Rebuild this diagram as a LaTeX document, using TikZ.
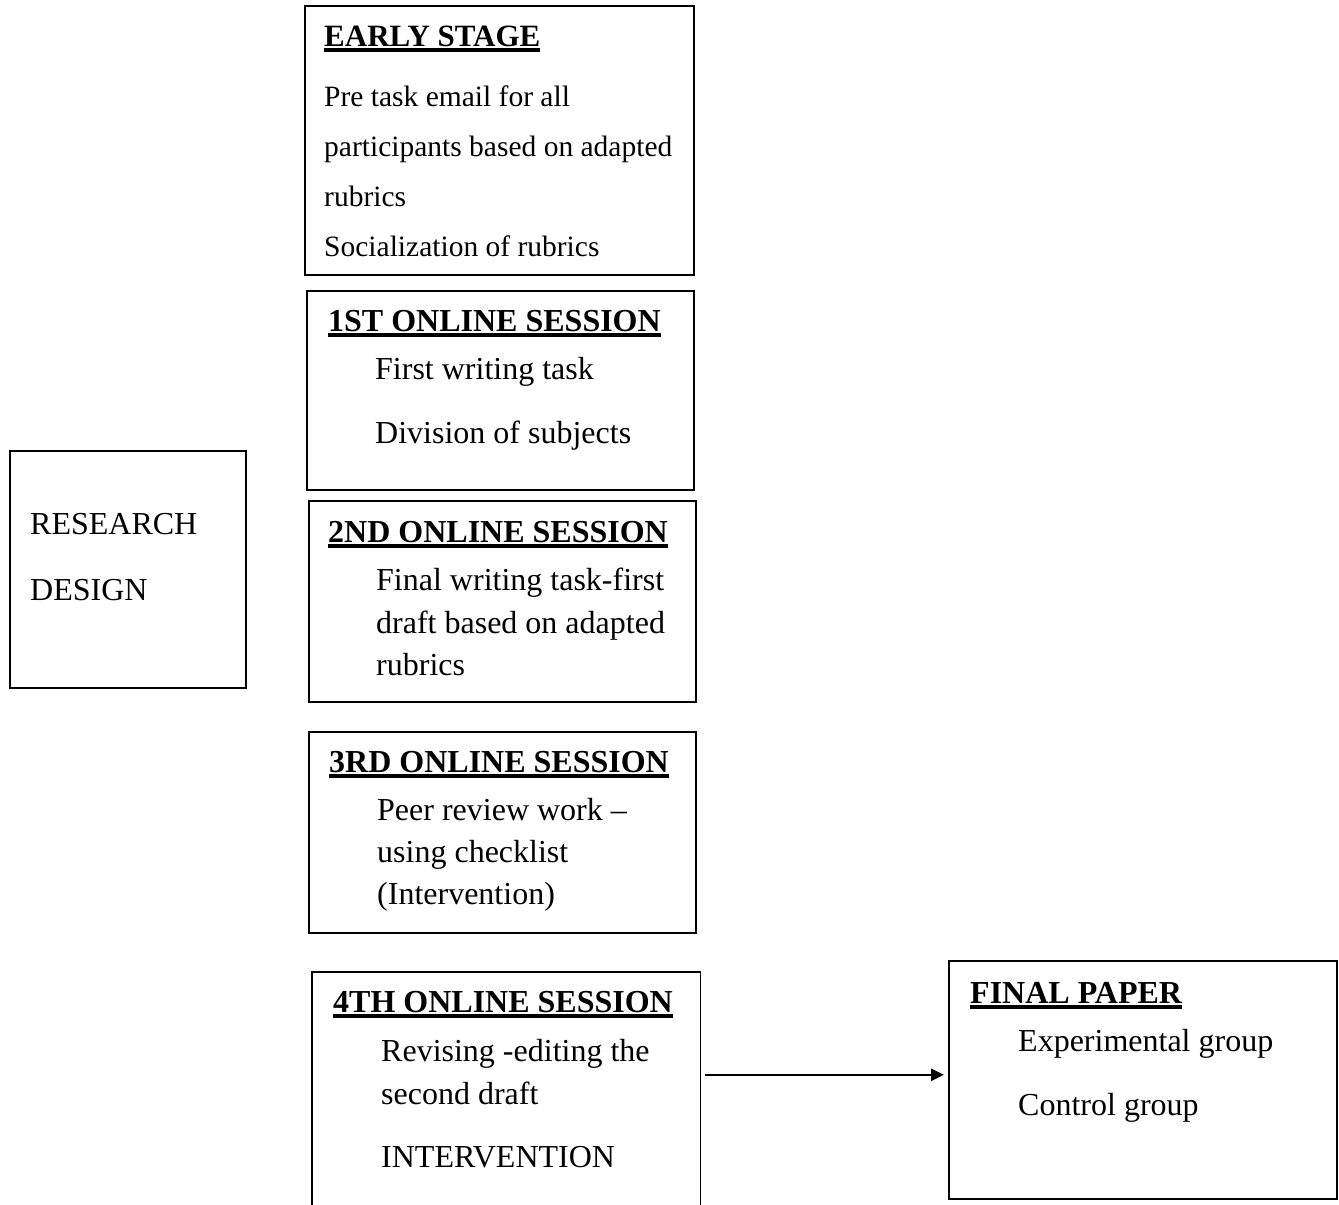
\documentclass[tikz,border=0pt]{standalone}
\usepackage{fontspec}
\setmainfont{Liberation Serif}
\usetikzlibrary{arrows.meta, positioning}
% bold heading with a thick underline
\newcommand{\headul}[1]{\setbox0\hbox{\bfseries #1}\rlap{\vrule height -2pt depth 6pt width \wd0}\box0}
\tikzset{
  frame/.style  = {rectangle, draw, line width=1.6pt, inner sep=0pt, anchor=north west},
  txt/.style    = {anchor=base west, inner sep=0pt, font=\fontsize{32}{38}\selectfont},
  stxt/.style   = {txt, font=\fontsize{29.5}{35}\selectfont},
  htxt/.style   = {txt, font=\fontsize{31}{37}\selectfont},
  arrow/.style  = {-{Triangle[length=13pt, width=12pt]}, line width=2.2pt},
}
\begin{document}
\begin{tikzpicture}[x=1pt, y=-1pt]
  \useasboundingbox (0,0) rectangle (1339,1205);
  % boxes
  \node[frame, minimum width=236pt, minimum height=237pt] (design) at (9,450) {};
  \node[frame, minimum width=389pt, minimum height=269pt] (early)  at (304,5) {};
  \node[frame, minimum width=387pt, minimum height=199pt] (s1)     at (306,290) {};
  \node[frame, minimum width=387pt, minimum height=201pt] (s2)     at (308,500) {};
  \node[frame, minimum width=387pt, minimum height=201pt] (s3)     at (308,731) {};
  \node[frame, draw=none, minimum width=387pt, minimum height=233pt] (s4) at (312,972) {};
  \draw[line width=1.6pt] (s4.south west) -- (s4.north west) -- (s4.north east) -- (s4.south east);
  \node[frame, minimum width=388pt, minimum height=238pt] (fin)    at (948,960) {};
  % research design
  \node[txt] (rd1) at (30,534) {RESEARCH};
  \node[txt] (rd2) at (30,600) {DESIGN};
  % early stage
  \node[htxt] (e0) at (324,46)  {\headul{EARLY STAGE}};
  \node[stxt] (e1) at (324,106) {Pre task email for all};
  \node[stxt] (e2) at (324,156) {participants based on adapted};
  \node[stxt] (e3) at (324,206) {rubrics};
  \node[stxt] (e4) at (324,256) {Socialization of rubrics};
  % 1st session
  \node[txt] (a0) at (328,331) {\headul{1ST ONLINE SESSION}};
  \node[txt] (a1) at (375,379) {First writing task};
  \node[txt] (a2) at (375,443) {Division of subjects};
  % 2nd session
  \node[txt] (b0) at (328,542) {\headul{2ND ONLINE SESSION}};
  \node[txt] (b1) at (376,590) {Final writing task-first};
  \node[txt] (b2) at (376,633) {draft based on adapted};
  \node[txt] (b3) at (376,675) {rubrics};
  % 3rd session
  \node[txt] (c0) at (329,772) {\headul{3RD ONLINE SESSION}};
  \node[txt] (c1) at (377,820) {Peer review work --};
  \node[txt] (c2) at (377,862) {using checklist};
  \node[txt] (c3) at (377,904) {(Intervention)};
  % 4th session
  \node[txt] (d0) at (333,1012) {\headul{4TH ONLINE SESSION}};
  \node[txt] (d1) at (381,1061) {Revising -editing the};
  \node[txt] (d2) at (381,1104) {second draft};
  \node[txt] (d3) at (381,1167) {INTERVENTION};
  % final paper
  \node[txt] (f0) at (970,1003) {\headul{FINAL PAPER}};
  \node[txt] (f1) at (1018,1051) {Experimental group};
  \node[txt] (f2) at (1018,1115) {Control group};
  % connector
  \coordinate (tip) at ([yshift=5pt]fin.west);
  \draw[arrow, shorten <=4pt, shorten >=4pt] (s4.east |- tip) -- (tip);
\end{tikzpicture}
\end{document}
